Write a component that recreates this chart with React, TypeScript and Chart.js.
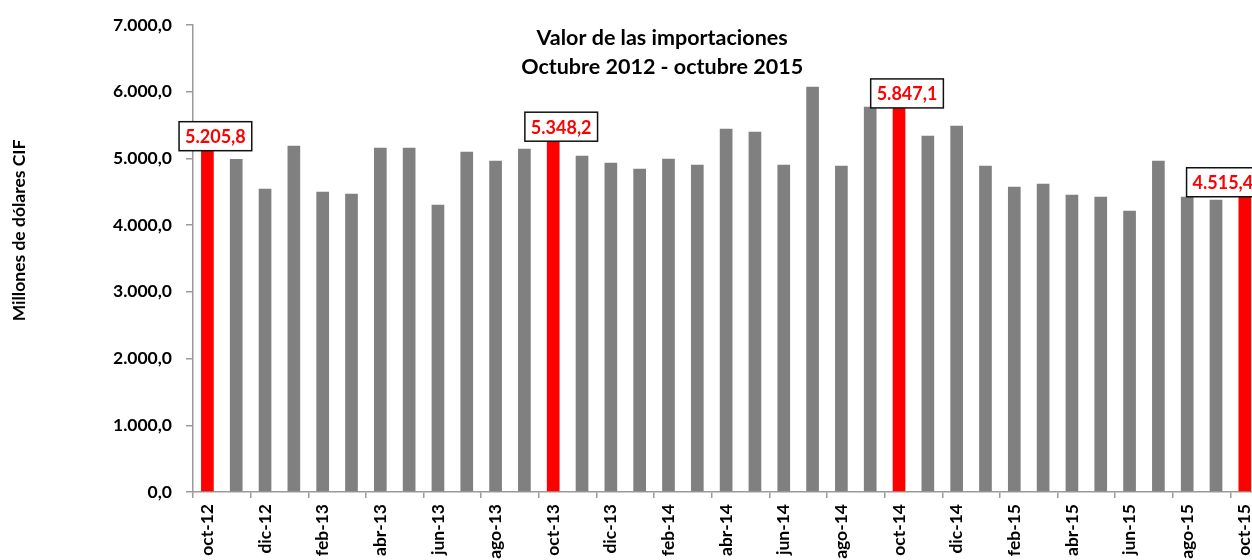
import { useEffect, useRef } from 'react';
import { Chart, registerables } from 'chart.js';

Chart.register(...registerables);

const categories = [
  'oct-12', 'nov-12', 'dic-12', 'ene-13', 'feb-13', 'mar-13', 'abr-13', 'may-13', 'jun-13', 'jul-13', 'ago-13', 'sep-13',
  'oct-13', 'nov-13', 'dic-13', 'ene-14', 'feb-14', 'mar-14', 'abr-14', 'may-14', 'jun-14', 'jul-14', 'ago-14', 'sep-14',
  'oct-14', 'nov-14', 'dic-14', 'ene-15', 'feb-15', 'mar-15', 'abr-15', 'may-15', 'jun-15', 'jul-15', 'ago-15', 'sep-15',
  'oct-15',
];

const values = [
  5205.8, 4990, 4545, 5190, 4500, 4470, 5160, 5160, 4305, 5100, 4965, 5145,
  5348.2, 5040, 4935, 4845, 4995, 4905, 5445, 5400, 4905, 6075, 4890, 5775,
  5847.1, 5340, 5490, 4890, 4575, 4620, 4455, 4425, 4215, 4965, 4425, 4380,
  4515.4,
];

const highlighted = ['oct-12', 'oct-13', 'oct-14', 'oct-15'];

const titleLines = ['Valor de las importaciones', 'Octubre 2012 - octubre 2015'];
const yAxisTitle = 'Millones de dólares CIF';

const GRAY = '#808080';
const RED = '#FF0000';
const AXIS = '#9a9a9a';
const FAMILY = 'Lato, "DejaVu Sans", sans-serif';

const W = 1272;
const H = 620;

function fmt(v: number): string {
  const [i, d] = v.toFixed(1).split('.');
  return i.replace(/\B(?=(\d{3})+(?!\d))/g, '.') + ',' + d;
}

export default function App() {
  const ref = useRef<HTMLCanvasElement>(null);

  useEffect(() => {
    document.body.style.margin = '0';
    document.body.style.overflow = 'hidden';
    let chart: Chart | null = null;
    let cancelled = false;

    const overlay = {
      id: 'overlay',
      afterDatasetsDraw(c: any) {
        const meta = c.getDatasetMeta(0);
        const { ctx, chartArea } = c;
        ctx.save();
        ctx.font = `bold 18px ${FAMILY}`;
        categories.forEach((cat, i) => {
          if (!highlighted.includes(cat)) return;
          const bar = meta.data[i];
          const text = fmt(values[i]);
          const tw = ctx.measureText(text).width;
          const bw = tw + 12;
          const bh = 29;
          let left = bar.x + 8 - bw / 2;
          if (left + bw > chartArea.right) left = chartArea.right - bw;
          const bottom = bar.y + 6;
          const top = bottom - bh;
          ctx.fillStyle = '#fff';
          ctx.fillRect(left, top, bw, bh);
          ctx.strokeStyle = '#111';
          ctx.lineWidth = 1.5;
          ctx.strokeRect(left, top, bw, bh);
          ctx.fillStyle = RED;
          ctx.textAlign = 'center';
          ctx.textBaseline = 'middle';
          ctx.fillText(text, left + bw / 2, top + bh / 2 + 1);
        });
        ctx.restore();
      },
      afterDraw(c: any) {
        const { ctx, chartArea } = c;
        ctx.save();
        ctx.fillStyle = '#000';
        ctx.textAlign = 'center';
        ctx.textBaseline = 'middle';
        ctx.font = `bold 21.5px ${FAMILY}`;
        const cx = chartArea.left + (chartArea.right - chartArea.left) * 0.44;
        ctx.fillText(titleLines[0], cx, 38);
        ctx.fillText(titleLines[1], cx, 67);
        ctx.font = `bold 17.5px ${FAMILY}`;
        ctx.translate(19, chartArea.top + (chartArea.bottom - chartArea.top) * 0.44);
        ctx.rotate(-Math.PI / 2);
        ctx.fillText(yAxisTitle, 0, 0);
        ctx.restore();
      },
    };

    const make = () => {
      if (cancelled || !ref.current) return;
      chart = new Chart(ref.current, {
        type: 'bar',
        data: {
          labels: categories,
          datasets: [
            {
              data: values,
              backgroundColor: categories.map((c) => (highlighted.includes(c) ? RED : GRAY)),
              barPercentage: 0.44,
              categoryPercentage: 1,
            },
          ],
        },
        options: {
          animation: false,
          responsive: false,
          maintainAspectRatio: false,
          layout: { padding: { top: 25, right: 12, left: 0, bottom: 0 } },
          plugins: {
            legend: { display: false },
            tooltip: { enabled: false },
            title: { display: false },
          },
          scales: {
            x: {
              grid: {
                offset: true,
                drawOnChartArea: false,
                drawTicks: true,
                tickLength: 6,
                lineWidth: 1.5,
                color: (ctx: any) => (ctx.index % 2 === 0 ? AXIS : 'rgba(0,0,0,0)'),
              },
              border: { color: AXIS, width: 1.5 },
              ticks: {
                autoSkip: false,
                maxRotation: 90,
                minRotation: 90,
                padding: 6,
                color: '#000',
                font: { family: FAMILY, size: 17.5, weight: 'bold' },
                callback: (_v: any, i: number) => (i % 2 === 0 ? categories[i] : ''),
              },
              afterFit: (s: any) => {
                s.height = H - 492;
              },
            },
            y: {
              min: 0,
              max: 7000,
              ticks: {
                stepSize: 1000,
                padding: 14,
                color: '#000',
                font: { family: FAMILY, size: 17.5, weight: 'bold' },
                callback: (v: any) => fmt(Number(v)),
              },
              grid: { drawOnChartArea: false, tickLength: 7, color: AXIS, lineWidth: 1.5 },
              border: { color: AXIS, width: 1.5 },
              afterFit: (s: any) => {
                s.width = 193;
              },
            },
          },
        },
        plugins: [overlay],
      } as any);
    };

    const fontsReady = (document as any).fonts
      ? Promise.all([
          (document as any).fonts.load('bold 17px Lato'),
          (document as any).fonts.load('bold 21px Lato'),
        ]).catch(() => null)
      : Promise.resolve();
    fontsReady.then(make);

    return () => {
      cancelled = true;
      if (chart) chart.destroy();
    };
  }, []);

  return (
    <div
      style={{
        position: 'fixed',
        left: 0,
        top: 0,
        width: 1252,
        height: 560,
        overflow: 'hidden',
        background: '#fff',
      }}
    >
      <canvas ref={ref} width={W} height={H} style={{ display: 'block', width: W, height: H }} />
    </div>
  );
}
